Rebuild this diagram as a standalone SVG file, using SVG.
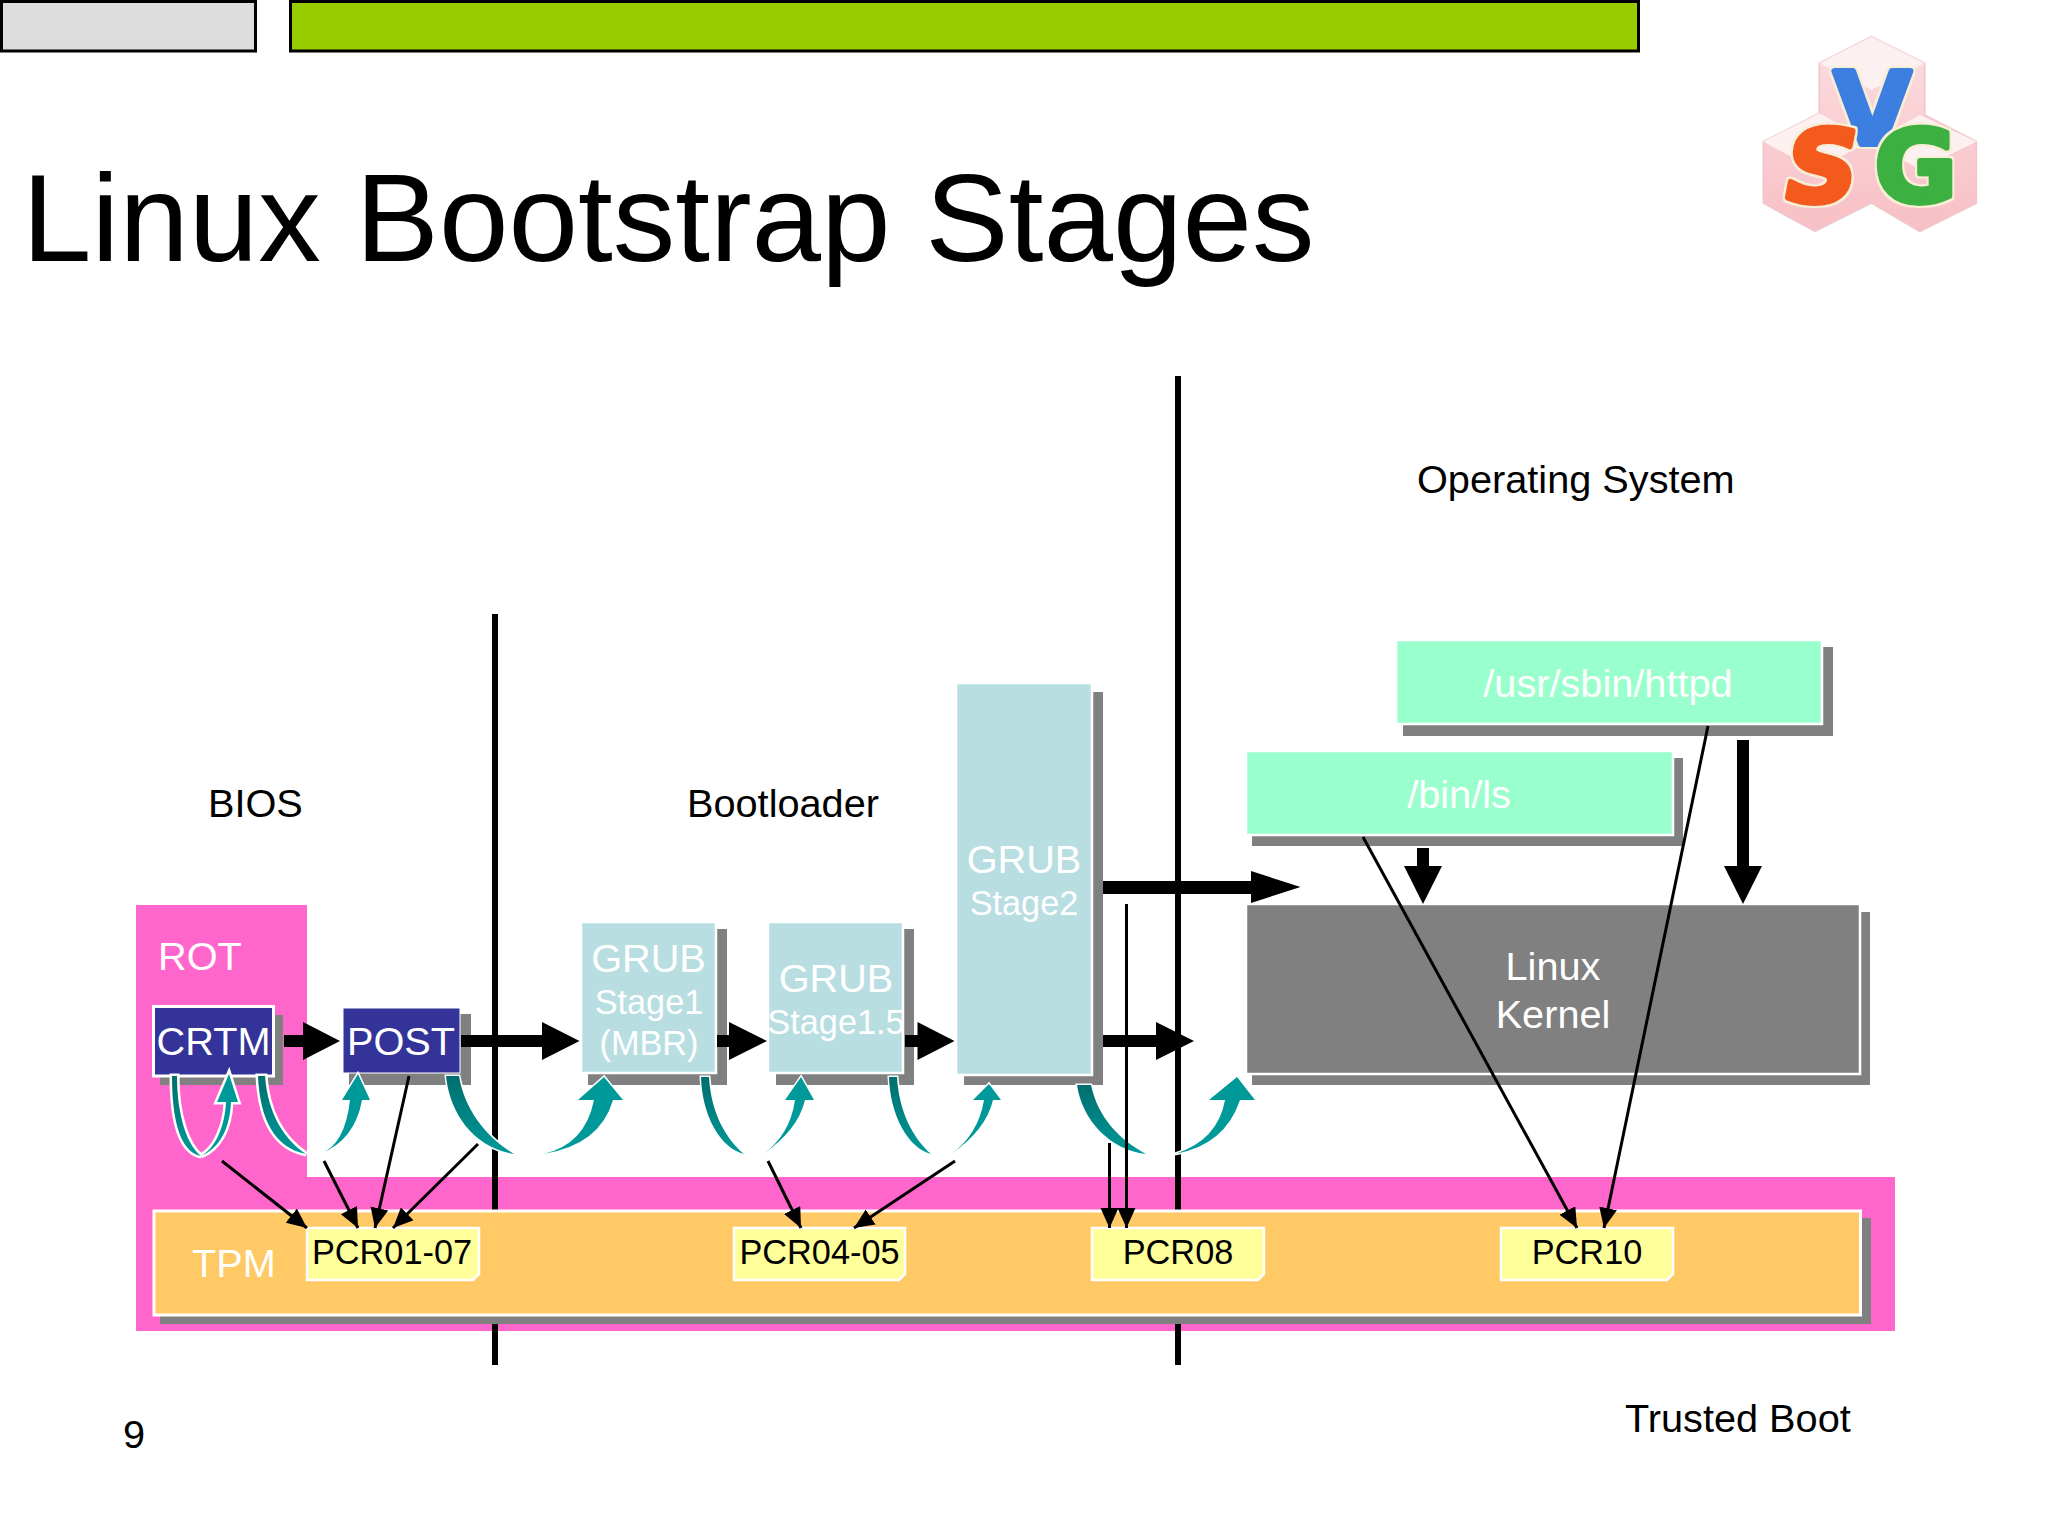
<svg xmlns="http://www.w3.org/2000/svg" width="2048" height="1536" viewBox="0 0 2048 1536">
<style>
text{font-family:"Liberation Sans",Arial,sans-serif}
.k{fill:#000}
.w{fill:#fff;text-anchor:middle}
.l{font-size:39.7px;fill:#000}
.s{fill:#808080}
.gr{fill:#B8DEE2;stroke:#fff;stroke-width:2.5}
.app{fill:#99FFCC;stroke:#fff;stroke-width:2.5}
.pcr{fill:#FFFF99;stroke:#fff;stroke-width:2.5}
.pt{font-size:34.300px;fill:#000;text-anchor:middle}
.f38{font-size:39.7px}
.f33{font-size:34.300px}
.thin{stroke:#000;stroke-width:3;fill:none;marker-end:url(#ah)}
.sw{fill:url(#tg);stroke:#fff;stroke-width:3;paint-order:stroke}
.up{fill:#009999;stroke:#fff;stroke-width:3;paint-order:stroke}
.halo{stroke-width:5}
.logo{font-family:"DejaVu Sans",sans-serif;font-weight:bold;font-size:300px;stroke-width:18;stroke-linejoin:round;text-anchor:middle;filter:url(#lh)}
</style>
<defs>
<marker id="ah" markerUnits="userSpaceOnUse" markerWidth="22" markerHeight="20" refX="20" refY="9" orient="auto"><path d="M0 0L20 9L0 18Z" fill="#000"/></marker>
<linearGradient id="tg" x1="0" y1="0" x2="0" y2="1"><stop offset="0" stop-color="#006E6E"/><stop offset="1" stop-color="#009999"/></linearGradient>
<linearGradient id="hexg" x1="0" y1="0" x2="0" y2="1"><stop offset="0" stop-color="#FBDDE0"/><stop offset="1" stop-color="#F8BFC6"/></linearGradient>
<filter id="lh" x="-20%" y="-20%" width="140%" height="140%"><feMorphology in="SourceAlpha" operator="dilate" radius="7" result="d"/><feFlood flood-color="#F6EFD6"/><feComposite in2="d" operator="in"/><feMerge><feMergeNode/><feMergeNode in="SourceGraphic"/></feMerge></filter>
</defs>
<rect width="2048" height="1536" fill="#fff"/>
<g id="header">
<rect x="1.500" y="1.500" width="254" height="49.500" fill="#DDDDDD" stroke="#000" stroke-width="3"/>
<rect x="290.500" y="1.500" width="1348" height="49.500" fill="#99CC00" stroke="#000" stroke-width="3"/>
<text x="22" y="261" font-size="125" fill="#000">Linux Bootstrap Stages</text>
</g>
<g id="logo" transform="translate(1720,0) scale(.333,.333)">
<path d="M455 110L615 190V345L770 425V610L600 695L455 610L285 695L130 610V425L298 340V190Z" fill="url(#hexg)" stroke="#EFC8CC" stroke-width="5"/>
<path d="M298 190L455 110L615 190L455 270ZM130 425L298 340L450 425L285 510ZM455 425L600 345L770 425L600 510Z" fill="#FDF0F0"/>
<text x="458" y="432" class="logo" fill="#3C7FE0" stroke="#3C7FE0">V</text>
<text x="307" y="607" class="logo" fill="#F45A1E" stroke="#F45A1E" font-style="italic">S</text>
<text x="588" y="607" class="logo" fill="#3CB043" stroke="#3CB043">G</text>
</g>
<g id="labels">
<text x="208" y="817" class="l">BIOS</text>
<text x="687" y="817" class="l">Bootloader</text>
<text x="1417" y="493" class="l">Operating System</text>
<text x="1625" y="1432" class="l">Trusted Boot</text>
<text x="123" y="1448" class="l">9</text>
</g>
<g id="rot-band">
<path d="M136 905H307V1177H1895V1331H136Z" fill="#FF66CC"/>
<text x="158" y="970" class="w f38" style="text-anchor:start">ROT</text>
</g>
<g id="dividers">
<rect x="492" y="614" width="6" height="751"/>
<rect x="1175" y="376" width="6" height="989"/>
</g>
<g id="tpm">
<rect x="160" y="1218" width="1711" height="106" class="s"/>
<rect x="154" y="1211" width="1706.500" height="104" fill="#FFC966" stroke="#fff" stroke-width="3"/>
<text x="192" y="1277" class="w f38" style="text-anchor:start">TPM</text>
</g>
<g id="crtm">
<rect x="160" y="1015" width="123" height="70" class="s"/>
<rect x="153.500" y="1006.500" width="120" height="69.500" fill="#333399" stroke="#fff" stroke-width="3"/>
<text x="213.500" y="1055" class="w f38">CRTM</text>
</g>
<g id="post">
<rect x="349" y="1014" width="122" height="71" class="s"/>
<rect x="343" y="1008" width="117" height="65" fill="#333399" stroke="#fff" stroke-width="1"/>
<text x="401" y="1055" class="w f38">POST</text>
</g>
<g id="grub-stage1">
<rect x="588" y="929" width="139" height="156" class="s"/>
<rect x="581" y="922" width="135" height="151" class="gr"/>
<text x="648.500" y="972" class="w f38">GRUB</text>
<text x="649" y="1014" class="w f33">Stage1</text>
<text x="649" y="1055" class="w f33">(MBR)</text>
</g>
<g id="grub-stage15">
<rect x="776" y="929" width="138" height="156" class="s"/>
<rect x="768" y="922" width="135" height="151" class="gr"/>
<text x="836" y="992" class="w f38">GRUB</text>
<text x="836" y="1034" class="w f33">Stage1.5</text>
</g>
<g id="grub-stage2">
<rect x="964" y="692" width="139" height="393" class="s"/>
<rect x="956" y="683" width="136" height="392" class="gr"/>
<text x="1024" y="873" class="w f38">GRUB</text>
<text x="1024" y="915" class="w f33">Stage2</text>
</g>
<g id="linux-kernel">
<rect x="1252" y="912" width="618" height="173" class="s"/>
<rect x="1246" y="904" width="614" height="170" fill="#808080" stroke="#fff" stroke-width="2.500"/>
<text x="1553" y="980" class="w f38">Linux</text>
<text x="1553" y="1028" class="w f38">Kernel</text>
</g>
<g id="bin-ls">
<rect x="1252" y="758" width="431" height="88" class="s"/>
<rect x="1246" y="751" width="427" height="84" class="app"/>
<text x="1459" y="808" class="w" font-size="39.700">/bin/ls</text>
</g>
<g id="httpd">
<rect x="1403" y="647" width="430" height="89" class="s"/>
<rect x="1396" y="640" width="426" height="84" class="app"/>
<text x="1608" y="697" class="w" font-size="39.700">/usr/sbin/httpd</text>
</g>
<g id="pcr01-07">
<path d="M307 1228H479V1274L473 1280H307Z" class="pcr"/>
<text x="392" y="1264" class="pt">PCR01-07</text>
</g>
<g id="pcr04-05">
<path d="M734 1228H905V1274L899 1280H734Z" class="pcr"/>
<text x="819.500" y="1264" class="pt">PCR04-05</text>
</g>
<g id="pcr08">
<path d="M1092 1228H1264V1274L1258 1280H1092Z" class="pcr"/>
<text x="1178" y="1264" class="pt">PCR08</text>
</g>
<g id="pcr10">
<path d="M1501 1228H1673V1274L1667 1280H1501Z" class="pcr"/>
<text x="1587" y="1264" class="pt">PCR10</text>
</g>
<g id="connectors">
<g id="block-arrows" class="k">
<path d="M284 1035H303V1022L340 1041L303 1060V1047H284Z"/>
<path d="M461 1035H542V1022L579.500 1041L542 1060V1047H461Z"/>
<path d="M717 1035H729V1022L767 1041L729 1060V1047H717Z"/>
<path d="M905 1035H917.500V1022L954.500 1041L917.500 1060V1047H905Z"/>
<path d="M1103 1035H1156V1022L1194 1041L1156 1060V1047H1103Z"/>
<path d="M1103 881H1251V871L1300.500 887L1251 903V894H1103Z"/>
<path d="M1417 848H1429V866H1442L1423 904L1404 866H1417Z"/>
<path d="M1737 740H1749V866H1762L1743 904L1724 866H1737Z"/>
</g>
<g id="teal-arrows">
<path d="M172 1076C172 1120 180 1152 201 1156C187 1145 177 1115 177 1076Z" class="sw halo"/>
<path d="M201 1156C216 1148 225 1125 226 1102H217L229 1074L238 1102H231C230 1128 220 1148 201 1156Z" class="up halo"/>
<path d="M258 1076C260 1120 275 1148 306 1154C285 1140 268 1115 265 1076Z" class="sw halo"/>
<path d="M320 1154Q345 1145 350 1100H342L358 1074L370 1100H362Q355 1140 320 1154Z" class="up"/>
<path d="M446 1076C450 1115 475 1148 514 1154C488 1138 465 1112 459 1076Z" class="sw"/>
<path d="M543 1154Q585 1145 594 1100H578L604 1077L623 1100H613Q600 1145 543 1154Z" class="up"/>
<path d="M701 1077C702 1115 720 1148 744 1154C725 1138 711 1112 709 1077Z" class="sw"/>
<path d="M763 1154Q790 1135 795 1100H785L801 1077L814 1100H805Q798 1130 763 1154Z" class="up"/>
<path d="M889 1077C890 1115 908 1148 931 1154C913 1138 899 1112 897 1077Z" class="sw"/>
<path d="M951 1154Q978 1135 984 1100H973L989 1084L1001 1100H993Q986 1130 951 1154Z" class="up"/>
<path d="M1077 1085C1082 1120 1110 1150 1146 1154C1120 1140 1098 1118 1091 1085Z" class="sw"/>
<path d="M1175 1154Q1218 1140 1225 1100H1209L1237 1077L1255 1100H1240Q1225 1145 1175 1154Z" class="up"/>
</g>
<g id="pcr-arrows">
<line x1="222" y1="1161" x2="307" y2="1228" class="thin"/>
<line x1="324" y1="1161" x2="358" y2="1228" class="thin"/>
<line x1="409" y1="1076" x2="375" y2="1228" class="thin"/>
<line x1="478" y1="1144" x2="393" y2="1228" class="thin"/>
<line x1="768" y1="1161" x2="801" y2="1228" class="thin"/>
<line x1="955" y1="1161" x2="854" y2="1228" class="thin"/>
<line x1="1109.500" y1="1143" x2="1109.500" y2="1228" class="thin"/>
<line x1="1126.500" y1="904" x2="1126.500" y2="1228" class="thin"/>
<line x1="1363" y1="837" x2="1577" y2="1228" class="thin"/>
<line x1="1708" y1="726" x2="1604" y2="1228" class="thin"/>
</g>
</g>
</svg>
